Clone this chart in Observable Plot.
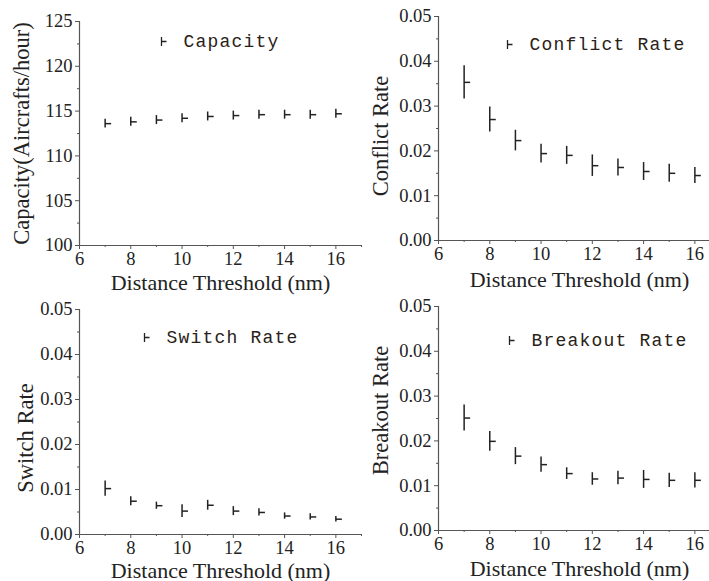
<!DOCTYPE html>
<html>
<head>
<meta charset="utf-8">
<script src="https://cdn.jsdelivr.net/npm/d3@7"></script>
<script src="https://cdn.jsdelivr.net/npm/@observablehq/plot@0.6"></script>
<style>
  html, body { margin: 0; padding: 0; background: #fff; }
  body { width: 709px; height: 581px; overflow: hidden; position: relative; }
  .panel { position: absolute; width: 362px; }
  .panel svg { max-width: none !important; }
  [font-family="Liberation Mono"] { letter-spacing: 1.2px; }
</style>
</head>
<body>
<div id="p1" class="panel" style="left:0px;top:0px"></div>
<div id="p2" class="panel" style="left:359px;top:0px"></div>
<div id="p3" class="panel" style="left:0px;top:290px"></div>
<div id="p4" class="panel" style="left:359px;top:290px"></div>
<script>
// ---- data ----
const distance = [7, 8, 9, 10, 11, 12, 13, 14, 15, 16];
const xTicks = [6, 8, 10, 12, 14, 16];
const xMinorTicks = [7, 9, 11, 13, 15, 17];
const xTitle = "Distance Threshold (nm)";

const capacity    = [113.6, 113.8, 114.0, 114.2, 114.4, 114.5, 114.6, 114.6, 114.6, 114.7];
const capacityErr = [0.5, 0.5, 0.5, 0.5, 0.5, 0.5, 0.5, 0.5, 0.5, 0.5];
const capacityTicks = [100, 105, 110, 115, 120, 125];
const capacityMinor = [102.5, 107.5, 112.5, 117.5, 122.5];

const conflict    = [0.0353, 0.0270, 0.0223, 0.0194, 0.0190, 0.0167, 0.0163, 0.0154, 0.0150, 0.0145];
const conflictErr = [0.0037, 0.0028, 0.0023, 0.0021, 0.0020, 0.0024, 0.0019, 0.0020, 0.0020, 0.0018];

const switchRate  = [0.0102, 0.0074, 0.0064, 0.0052, 0.0065, 0.0052, 0.0049, 0.0041, 0.0039, 0.0034];
const switchErr   = [0.0017, 0.0010, 0.0008, 0.0014, 0.0011, 0.0010, 0.0008, 0.0007, 0.0007, 0.0006];

const breakout    = [0.0251, 0.0199, 0.0166, 0.0147, 0.0127, 0.0115, 0.0117, 0.0114, 0.0112, 0.0112];
const breakoutErr = [0.0029, 0.0022, 0.0019, 0.0017, 0.0013, 0.0014, 0.0015, 0.0020, 0.0016, 0.0017];

const rateTicks = [0, 0.01, 0.02, 0.03, 0.04, 0.05];
const rateMinor = [0.005, 0.015, 0.025, 0.035, 0.045];

// ---- drawing ----
const ink = "#222";
const axisInk = "#555";
const tickRight = { draw(ctx) { ctx.moveTo(0, 0); ctx.lineTo(6, 0); } };
const legendSym = { draw(ctx) { ctx.moveTo(0, -4.5); ctx.lineTo(0, 4.5); ctx.moveTo(0, 0); ctx.lineTo(5, 0); } };

function panel(cfg) {
  const rows = distance.map((d, i) => ({
    x: d, y: cfg.values[i], lo: cfg.values[i] - cfg.errors[i], hi: cfg.values[i] + cfg.errors[i]
  }));
  return Plot.plot({
    width: 362,
    height: cfg.height,
    marginLeft: 79,
    marginRight: 1,
    marginTop: cfg.mt,
    marginBottom: cfg.height - cfg.mt - cfg.inner,
    style: { fontFamily: "Liberation Serif", fontSize: "18.5px", color: ink, background: "transparent", overflow: "visible", maxWidth: "none" },
    x: { domain: [6, 17], label: null },
    y: { domain: cfg.domain, label: null },
    marks: [
      Plot.axisX({ ticks: xTicks, tickSize: 4, tickPadding: 2, fontSize: 18.5, stroke: axisInk, fill: ink, label: null }),
      Plot.axisX({ ticks: xMinorTicks, tickSize: 2, tickFormat: () => "", stroke: axisInk, label: null }),
      Plot.axisY({ ticks: cfg.ticks, tickSize: 4, tickPadding: 3, fontSize: 18.5, stroke: axisInk, fill: ink, tickFormat: cfg.fmt, label: null }),
      Plot.axisY({ ticks: cfg.minor, tickSize: 2, tickFormat: () => "", stroke: axisInk, label: null }),
      Plot.ruleX([6], { stroke: axisInk, strokeWidth: 1.2 }),
      Plot.ruleY([cfg.domain[0]], { stroke: axisInk, strokeWidth: 1.2 }),
      Plot.ruleX(rows, { x: "x", y1: "lo", y2: "hi", stroke: ink, strokeWidth: 1.5 }),
      Plot.dot(rows, { x: "x", y: "y", symbol: tickRight, stroke: ink, fill: "none", strokeWidth: 1.5 }),
      Plot.text([xTitle], { frameAnchor: "bottom", lineAnchor: "bottom", dy: cfg.xdy, fontSize: 22, fill: ink }),
      Plot.text([cfg.ylabel], { frameAnchor: "left", textAnchor: "middle", lineAnchor: "bottom", rotate: -90, dx: cfg.ydx, dy: cfg.ydy, fontSize: 22.5, fill: ink }),
      Plot.dot([0], { frameAnchor: "top-left", dx: cfg.lx, dy: cfg.ly, symbol: legendSym, stroke: ink, fill: "none", strokeWidth: 1.3 }),
      Plot.text([cfg.legend], { frameAnchor: "top-left", textAnchor: "start", lineAnchor: "middle", dx: cfg.lx + 22, dy: cfg.ly, fontFamily: "Liberation Mono", fontSize: 18, fill: "#2a2218" })
    ]
  });
}

const fmt2 = d3.format(".2f");

document.getElementById("p1").append(panel({
  values: capacity, errors: capacityErr, domain: [100, 125], ticks: capacityTicks, minor: capacityMinor, fmt: d3.format("d"),
  ylabel: "Capacity(Aircrafts/hour)", legend: "Capacity",
  height: 290, mt: 21, inner: 224, xdy: 44, ydx: -51, ydy: 0, lx: 82, ly: 20
}));
document.getElementById("p2").append(panel({
  values: conflict, errors: conflictErr, domain: [0, 0.05], ticks: rateTicks, minor: rateMinor, fmt: fmt2,
  ylabel: "Conflict Rate", legend: "Conflict Rate",
  height: 290, mt: 16, inner: 224, xdy: 46, ydx: -51, ydy: 7.5, lx: 69, ly: 28
}));
document.getElementById("p3").append(panel({
  values: switchRate, errors: switchErr, domain: [0, 0.05], ticks: rateTicks, minor: rateMinor, fmt: fmt2,
  ylabel: "Switch Rate", legend: "Switch Rate",
  height: 291, mt: 19, inner: 225, xdy: 43, ydx: -47, ydy: 16, lx: 65, ly: 28
}));
document.getElementById("p4").append(panel({
  values: breakout, errors: breakoutErr, domain: [0, 0.05], ticks: rateTicks, minor: rateMinor, fmt: fmt2,
  ylabel: "Breakout Rate", legend: "Breakout Rate",
  height: 291, mt: 16, inner: 224, xdy: 45, ydx: -51, ydy: -8, lx: 71, ly: 34
}));
</script>
</body>
</html>
